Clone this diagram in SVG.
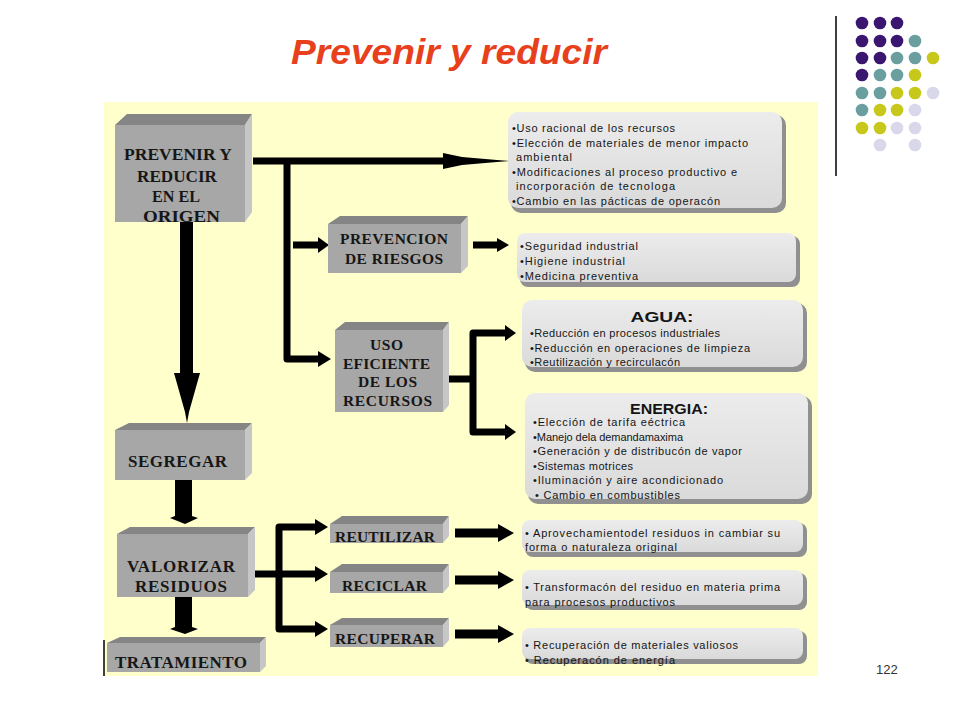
<svg xmlns="http://www.w3.org/2000/svg" width="960" height="720" viewBox="0 0 960 720">
<style>
.front{fill:#a7a7a7}
.top{fill:#858585}
.side{fill:#c6c6c6}
.bt{font-family:"Liberation Serif","Times New Roman",serif;font-weight:bold;font-size:17px;fill:#161616;text-anchor:start}
.bx{fill:url(#bg)}
.sh{fill:#909090}
.tx{font-family:"Liberation Sans",Arial,sans-serif;font-size:11px;fill:#151515}
.hd{font-family:"Liberation Sans",Arial,sans-serif;font-size:15px;font-weight:bold;fill:#151515;text-anchor:middle}
.ln{fill:none;stroke:#000;stroke-width:7;stroke-linejoin:round}
.ah{fill:#000}
.p{fill:#3b1670}.t{fill:#6a9e9f}.y{fill:#c8c81c}.l{fill:#d8d8ea}
</style>
<defs>
<linearGradient id="bg" x1="0" y1="0" x2="0" y2="1">
<stop offset="0" stop-color="#ececec"/>
<stop offset="1" stop-color="#dadada"/>
</linearGradient>
</defs>
<rect width="960" height="720" fill="#fff"/>
<text x="449" y="64" font-family="Liberation Sans,Arial,sans-serif" font-weight="bold" font-style="italic" font-size="35" fill="#e8401c" text-anchor="middle" textLength="316" lengthAdjust="spacingAndGlyphs">Prevenir y reducir</text>
<g id="dots">
<line x1="836" y1="16" x2="836" y2="176" stroke="#000" stroke-width="1.5"/>
<circle class="p" cx="862" cy="23" r="6.3"/><circle class="p" cx="880" cy="23" r="6.3"/><circle class="p" cx="897" cy="23" r="6.3"/>
<circle class="p" cx="862" cy="41" r="6.3"/><circle class="p" cx="880" cy="41" r="6.3"/><circle class="p" cx="897" cy="41" r="6.3"/><circle class="t" cx="915" cy="41" r="6.3"/>
<circle class="p" cx="862" cy="58" r="6.3"/><circle class="p" cx="880" cy="58" r="6.3"/><circle class="t" cx="897" cy="58" r="6.3"/><circle class="t" cx="915" cy="58" r="6.3"/><circle class="y" cx="933" cy="58" r="6.3"/>
<circle class="p" cx="862" cy="75" r="6.3"/><circle class="t" cx="880" cy="75" r="6.3"/><circle class="t" cx="897" cy="75" r="6.3"/><circle class="y" cx="915" cy="75" r="6.3"/>
<circle class="t" cx="862" cy="93" r="6.3"/><circle class="t" cx="880" cy="93" r="6.3"/><circle class="y" cx="897" cy="93" r="6.3"/><circle class="y" cx="915" cy="93" r="6.3"/><circle class="l" cx="933" cy="93" r="6.3"/>
<circle class="t" cx="862" cy="110" r="6.3"/><circle class="y" cx="880" cy="110" r="6.3"/><circle class="y" cx="897" cy="110" r="6.3"/><circle class="l" cx="915" cy="110" r="6.3"/>
<circle class="y" cx="862" cy="128" r="6.3"/><circle class="y" cx="880" cy="128" r="6.3"/><circle class="l" cx="897" cy="128" r="6.3"/><circle class="l" cx="915" cy="128" r="6.3"/>
<circle class="l" cx="880" cy="145" r="6.3"/><circle class="l" cx="915" cy="145" r="6.3"/>
</g>
<rect id="panel" x="104" y="102" width="714" height="574" fill="#ffffcc"/>
<line x1="104" y1="640" x2="104" y2="676" stroke="#000" stroke-width="1.5"/>

<g id="connectors">
<path class="ln" d="M253,161 H445"/>
<polygon class="ah" points="443,153 462,157 497,160 510,161 497,162 462,165 443,169"/>
<path class="ln" d="M287,161 V359 H319"/>
<polygon class="ah" points="318,351 331,359 318,367"/>
<path class="ln" d="M293,245 H319"/>
<polygon class="ah" points="318,237 329,245 318,253"/>
<path class="ln" d="M473,245 H498"/>
<polygon class="ah" points="497,238 509,245 497,252"/>
<path class="ln" d="M448,379 H473"/>
<path class="ln" d="M507,333 H473 V432 H507"/>
<polygon class="ah" points="505,325 516,333 505,341"/>
<polygon class="ah" points="505,424 516,432 505,440"/>
<polygon class="ah" points="180,222 193,222 193,373 200,373 189,412 187,423 185,412 174,373 180,373"/>
<polygon class="ah" points="175,480 192,480 192,516 198,518 185,524 170,518 175,516"/>
<polygon class="ah" points="175,597 192,597 192,627 198,629 185,634 170,629 175,627"/>
<path class="ln" d="M255,574 H279"/>
<path class="ln" d="M317,527 H279 V629 H317"/>
<path class="ln" d="M279,574 H317"/>
<polygon class="ah" points="315,519 328,527 315,535"/>
<polygon class="ah" points="315,566 328,574 315,582"/>
<polygon class="ah" points="315,621 328,629 315,637"/>
<path class="ln" d="M455,533 H500" style="stroke-width:9"/>
<polygon class="ah" points="498,524 514,533 498,542"/>
<path class="ln" d="M455,580 H500" style="stroke-width:9"/>
<polygon class="ah" points="498,571 514,580 498,589"/>
<path class="ln" d="M455,634 H500" style="stroke-width:9"/>
<polygon class="ah" points="498,625 514,634 498,643"/>
</g>

<g id="prevenir">
<polygon class="top" points="115,125 127,114 252,114 245,125"/>
<polygon class="side" points="245,125 252,114 252,212 245,222"/>
<rect class="front" x="115" y="125" width="130" height="97"/>
<text class="bt" x="124" y="160" textLength="108" lengthAdjust="spacingAndGlyphs">PREVENIR Y</text>
<text class="bt" x="137" y="182" textLength="80" lengthAdjust="spacingAndGlyphs">REDUCIR</text>
<text class="bt" x="152" y="202" textLength="48" lengthAdjust="spacingAndGlyphs">EN EL</text>
<text class="bt" x="143" y="222" textLength="77" lengthAdjust="spacingAndGlyphs">ORIGEN</text>
</g>

<g id="prevencion">
<polygon class="top" points="328,224 340,216 468,216 461,224"/>
<polygon class="side" points="461,224 468,216 468,266 461,273"/>
<rect class="front" x="328" y="224" width="133" height="49"/>
<text class="bt" x="340" y="244" style="font-size:15.5px" textLength="108" lengthAdjust="spacing">PREVENCION</text>
<text class="bt" x="345" y="264" style="font-size:15.5px" textLength="98" lengthAdjust="spacing">DE RIESGOS</text>
</g>

<g id="uso">
<polygon class="top" points="335,330 345,322 449,322 443,330"/>
<polygon class="side" points="443,330 449,322 449,405 443,412"/>
<rect class="front" x="335" y="330" width="108" height="82"/>
<text class="bt" x="370" y="350" style="font-size:15.5px" textLength="33" lengthAdjust="spacing">USO</text>
<text class="bt" x="343" y="369" style="font-size:15.5px" textLength="87" lengthAdjust="spacing">EFICIENTE</text>
<text class="bt" x="358" y="387" style="font-size:15.5px" textLength="59" lengthAdjust="spacing">DE LOS</text>
<text class="bt" x="343" y="406" style="font-size:15.5px" textLength="89" lengthAdjust="spacing">RECURSOS</text>
</g>

<g id="segregar">
<polygon class="top" points="115,430 129,423 252,423 245,430"/>
<polygon class="side" points="245,430 252,423 252,473 245,480"/>
<rect class="front" x="115" y="430" width="130" height="50"/>
<text class="bt" x="128" y="467" textLength="99" lengthAdjust="spacing">SEGREGAR</text>
</g>

<g id="valorizar">
<polygon class="top" points="117,534 130,527 255,527 248,534"/>
<polygon class="side" points="248,534 255,527 255,590 248,597"/>
<rect class="front" x="117" y="534" width="131" height="63"/>
<text class="bt" x="127" y="572" textLength="108" lengthAdjust="spacing">VALORIZAR</text>
<text class="bt" x="135" y="592" textLength="92" lengthAdjust="spacing">RESIDUOS</text>
</g>

<g id="tratamiento">
<polygon class="top" points="107,643 120,637 266,637 260,643"/>
<polygon class="side" points="260,643 266,637 266,666 260,672"/>
<rect class="front" x="107" y="643" width="153" height="29"/>
<text class="bt" x="115" y="668" textLength="132" lengthAdjust="spacing">TRATAMIENTO</text>
</g>

<g id="reutilizar">
<polygon class="top" points="330,524 342,516 449,516 443,524"/>
<polygon class="side" points="443,524 449,516 449,536 443,543"/>
<rect class="front" x="330" y="524" width="113" height="19"/>
<text class="bt" x="335" y="542" style="font-size:15.5px" textLength="100" lengthAdjust="spacing">REUTILIZAR</text>
</g>

<g id="reciclar">
<polygon class="top" points="330,572 342,564 449,564 443,572"/>
<polygon class="side" points="443,572 449,564 449,586 443,593"/>
<rect class="front" x="330" y="572" width="113" height="21"/>
<text class="bt" x="342" y="591" style="font-size:15.5px" textLength="85" lengthAdjust="spacing">RECICLAR</text>
</g>

<g id="recuperar">
<polygon class="top" points="330,625 342,618 449,618 443,625"/>
<polygon class="side" points="443,625 449,618 449,640 443,647"/>
<rect class="front" x="330" y="625" width="113" height="22"/>
<text class="bt" x="335" y="644" style="font-size:15.5px" textLength="100" lengthAdjust="spacing">RECUPERAR</text>
</g>

<g id="list-origen">
<rect class="sh" x="511" y="115" width="275" height="98" rx="10"/>
<rect class="bx" x="508" y="112" width="274" height="96" rx="10"/>
<text class="tx" x="512" y="132" textLength="163" lengthAdjust="spacing">•Uso racional de los recursos</text>
<text class="tx" x="512" y="147" textLength="236" lengthAdjust="spacing">•Elección de materiales de menor impacto</text>
<text class="tx" x="516" y="161" textLength="56" lengthAdjust="spacing">ambiental</text>
<text class="tx" x="512" y="176" textLength="225" lengthAdjust="spacing">•Modificaciones al proceso productivo e</text>
<text class="tx" x="516" y="190" textLength="159" lengthAdjust="spacing">incorporación de tecnologa</text>
<text class="tx" x="512" y="205" textLength="208" lengthAdjust="spacing">•Cambio en las pácticas de operacón</text>
</g>

<g id="list-riesgos">
<rect class="sh" x="520" y="236" width="280" height="51" rx="8"/>
<rect class="bx" x="517" y="233" width="279" height="49" rx="8"/>
<text class="tx" x="520" y="250" textLength="118" lengthAdjust="spacing">•Seguridad industrial</text>
<text class="tx" x="520" y="265" textLength="105" lengthAdjust="spacing">•Higiene industrial</text>
<text class="tx" x="520" y="280" textLength="118" lengthAdjust="spacing">•Medicina preventiva</text>
</g>

<g id="list-agua">
<rect class="sh" x="525" y="303" width="282" height="69" rx="10"/>
<rect class="bx" x="522" y="300" width="281" height="67" rx="10"/>
<text class="hd" x="662" y="322" textLength="63" lengthAdjust="spacingAndGlyphs">AGUA:</text>
<text class="tx" x="530" y="337" textLength="190" lengthAdjust="spacing">•Reducción en procesos industriales</text>
<text class="tx" x="530" y="352" textLength="220" lengthAdjust="spacing">•Reducción en operaciones de limpieza</text>
<text class="tx" x="530" y="366" textLength="150" lengthAdjust="spacing">•Reutilización y recirculacón</text>
</g>

<g id="list-energia">
<rect class="sh" x="528" y="396" width="284" height="108" rx="10"/>
<rect class="bx" x="525" y="393" width="283" height="106" rx="10"/>
<text class="hd" x="669" y="414" textLength="78" lengthAdjust="spacingAndGlyphs">ENERGIA:</text>
<text class="tx" x="533" y="426" textLength="152" lengthAdjust="spacing">•Elección de tarifa eéctrica</text>
<text class="tx" x="533" y="441" textLength="150" lengthAdjust="spacing">•Manejo dela demandamaxima</text>
<text class="tx" x="533" y="455" textLength="209" lengthAdjust="spacing">•Generación y de distribucón de vapor</text>
<text class="tx" x="533" y="470" textLength="100" lengthAdjust="spacing">•Sistemas motrices</text>
<text class="tx" x="533" y="484" textLength="190" lengthAdjust="spacing">•Iluminación y aire acondicionado</text>
<text class="tx" x="535" y="499" textLength="145" lengthAdjust="spacing">• Cambio en combustibles</text>
</g>

<g id="list-reutilizar">
<rect class="sh" x="525" y="523" width="282" height="34" rx="8"/>
<rect class="bx" x="522" y="520" width="281" height="32" rx="8"/>
<text class="tx" x="525" y="537" textLength="255" lengthAdjust="spacing">• Aprovechamientodel residuos in cambiar su</text>
<text class="tx" x="525" y="551" textLength="152" lengthAdjust="spacing">forma o naturaleza original</text>
</g>

<g id="list-reciclar">
<rect class="sh" x="525" y="573" width="282" height="37" rx="8"/>
<rect class="bx" x="522" y="570" width="281" height="35" rx="8"/>
<text class="tx" x="525" y="591" textLength="255" lengthAdjust="spacing">• Transformacón del residuo en materia prima</text>
<text class="tx" x="525" y="606" textLength="150" lengthAdjust="spacing">para procesos productivos</text>
</g>

<g id="list-recuperar">
<rect class="sh" x="525" y="631" width="282" height="33" rx="8"/>
<rect class="bx" x="522" y="628" width="281" height="31" rx="8"/>
<text class="tx" x="525" y="649" textLength="213" lengthAdjust="spacing">• Recuperación de materiales valiosos</text>
<text class="tx" x="525" y="664" textLength="150" lengthAdjust="spacing">• Recuperacón de energía</text>
</g>

<text x="876" y="674" font-family="Liberation Sans,Arial,sans-serif" font-size="13" fill="#333">122</text>
</svg>
